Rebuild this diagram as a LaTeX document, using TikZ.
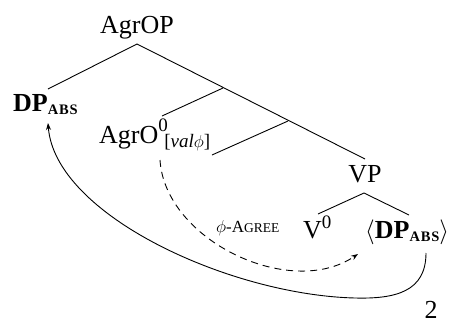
\documentclass[tikz,border=0pt]{standalone}
\usepackage{fontspec}
\setmainfont{Liberation Serif}
\usetikzlibrary{arrows.meta}
\newcommand\abssub{\fontsize{14.5}{15}\selectfont\bfseries A\kern0.8pt B\kern0.8pt S}
\newcommand\supzero{\raisebox{10pt}{\fontsize{19}{19}\selectfont 0}}
\begin{document}
\begin{tikzpicture}[x=1pt,y=-1pt,
  lbl/.style={inner sep=0pt, font=\fontsize{26}{26}\selectfont},
  branch/.style={line width=0.9pt},
  agreearrow/.style={line width=0.9pt, dash pattern=on 7pt off 5pt, -{Stealth[length=7pt,width=5pt]}},
  movearrow/.style={line width=0.9pt, -{Stealth[length=7pt,width=5pt]}}]
\useasboundingbox (0,0) rectangle (453,322);
% nodes
\node[lbl, anchor=base] (agrop) at (137,33) {AgrOP};
\node[lbl, anchor=base west] (dp) at (13,111) {\textbf{DP}\raisebox{-3pt}{\abssub}};
\node[lbl, anchor=base west] (agro) at (99,143) {AgrO\rlap{\raisebox{12pt}{\fontsize{19}{19}\selectfont 0}}\hspace{6pt}\raisebox{-4pt}{\fontsize{19}{19}\selectfont[\textit{val}$\phi$]}};
\node[lbl, anchor=base] (vp) at (365,182) {VP};
\node[lbl, anchor=base west] (v0) at (303,238) {V\supzero};
\node[lbl, anchor=base west] (dpt) at (365,238) {$\langle$\textbf{DP}\raisebox{-3pt}{\abssub}$\rangle$};
\node[inner sep=0pt, anchor=base west] (agree) at (216,232) {\fontsize{17}{17}\selectfont$\phi$-A\fontsize{13.5}{14}\selectfont GREE};
\node[lbl, anchor=base] (two) at (431,318) {2};
% tree coordinates
\coordinate (top) at (137,44);
\coordinate (dpT) at (48,89);
\coordinate (b1) at (223,88);
\coordinate (agroT) at (162,116);
\coordinate (b2) at (288,121);
\coordinate (b2L) at (212,155);
\coordinate (vpT) at (365,159);
\coordinate (vpB) at (364,193);
\coordinate (v0T) at (318,214);
\coordinate (dptT) at (409,215);
% tree lines
\draw[branch] (dpT) -- (top) -- (vpT);
\draw[branch] (b1) -- (agroT);
\draw[branch] (b2) -- (b2L);
\draw[branch] (v0T) -- (vpB) -- (dptT);
% arrows
\coordinate (agS) at (160,160);
\coordinate (agE) at (358,254);
\draw[agreearrow] (agS) .. controls (165,240) and (290,300) .. (agE);
\coordinate (mvS) at (426,253);
\coordinate (mvM) at (355,298);
\coordinate (mvE) at (48,123);
\draw[movearrow] (mvS) .. controls (426,292) and (395,299) .. (mvM) .. controls (230,295) and (55,215) .. (mvE);
\end{tikzpicture}
\end{document}
